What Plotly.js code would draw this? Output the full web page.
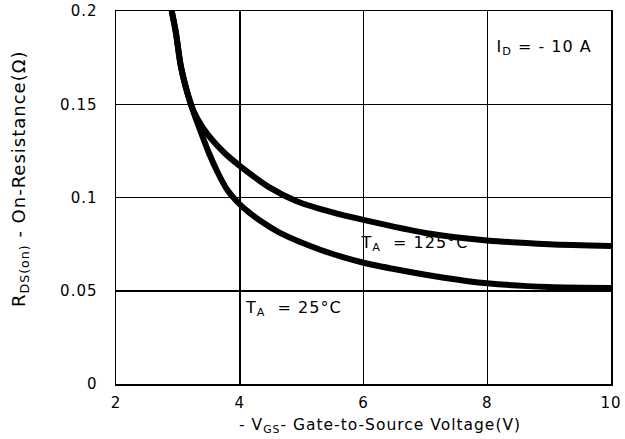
<!DOCTYPE html>
<html>
<head>
<meta charset="utf-8">
<script src="https://cdn.plot.ly/plotly-3.0.1.min.js"></script>
<style>
html,body{margin:0;padding:0;background:#fff;}
#chart{width:625px;height:439px;}
#chart svg text{letter-spacing:1px;}
</style>
</head>
<body>
<div id="chart"></div>
<script>
// Data
const vgs25 = [2.9, 2.97, 3.05, 3.21, 3.35, 3.5, 3.65, 3.8, 3.95, 4.15, 4.4, 4.65, 5.3, 6.0, 6.6, 7.3, 8.0, 9.0, 10.0];
const rds25 = [0.2, 0.188, 0.17, 0.15, 0.137, 0.124, 0.113, 0.104, 0.098, 0.092, 0.086, 0.081, 0.072, 0.065, 0.061, 0.057, 0.054, 0.052, 0.0515];
const vgs125 = [2.9, 2.97, 3.05, 3.21, 3.32, 3.5, 3.75, 4.0, 4.5, 4.92, 5.5, 6.0, 7.0, 8.0, 9.0, 10.0];
const rds125 = [0.2, 0.188, 0.17, 0.15, 0.142, 0.133, 0.124, 0.117, 0.105, 0.098, 0.092, 0.088, 0.081, 0.077, 0.075, 0.074];
const xTicks = [2, 4, 6, 8, 10];
const yTicks = [0, 0.05, 0.1, 0.15, 0.2];
const yTickLabels = ['0', '0.05', '0.1', '0.15', '0.2'];

const font = 'DejaVu Sans, Arial, sans-serif';
const traces = [
  {x: vgs25, y: rds25, mode: 'lines', line: {color: '#000', width: 6, shape: 'spline', smoothing: 0.8}, showlegend: false, hoverinfo: 'skip'},
  {x: vgs125, y: rds125, mode: 'lines', line: {color: '#000', width: 6, shape: 'spline', smoothing: 0.8}, showlegend: false, hoverinfo: 'skip'}
];
const layout = {
  width: 625, height: 439,
  margin: {l: 116, r: 14, t: 11, b: 55},
  paper_bgcolor: '#fff', plot_bgcolor: '#fff',
  font: {family: font, color: '#000', size: 15},
  xaxis: {
    range: [2, 10], tickvals: xTicks, ticktext: xTicks.map(String),
    showgrid: true, gridcolor: '#000', gridwidth: 1.5,
    showline: true, linecolor: '#000', linewidth: 1.5, mirror: true,
    zeroline: false, ticks: '', ticklen: 0, ticklabelstandoff: 4,
    tickfont: {size: 15, family: font}
  },
  yaxis: {
    range: [0, 0.2], tickvals: yTicks, ticktext: yTickLabels,
    showgrid: true, gridcolor: '#000', gridwidth: 1.5,
    showline: true, linecolor: '#000', linewidth: 1.5, mirror: true,
    zeroline: false, ticks: '', ticklen: 0, ticklabelstandoff: 14,
    tickfont: {size: 15, family: font}
  },
  annotations: [
    {x: 0.533, y: -0.113, xref: 'paper', yref: 'paper', text: '- V<sub>GS</sub>- Gate-to-Source Voltage(V)', showarrow: false, xanchor: 'center', yanchor: 'middle', font: {size: 15.5, family: font}},
    {x: -0.194, y: 0.552, xref: 'paper', yref: 'paper', text: 'R<sub>DS(on)</sub> - On-Resistance(Ω)', textangle: -90, showarrow: false, xanchor: 'center', yanchor: 'middle', font: {size: 18, family: font}},
    {x: 6.0, y: 0.0756, xref: 'x', yref: 'y', text: 'T<sub>A</sub>  = 125°C', showarrow: false, xanchor: 'left', yanchor: 'middle', font: {size: 16, family: font}},
    {x: 4.13, y: 0.0407, xref: 'x', yref: 'y', text: 'T<sub>A</sub>  = 25°C', showarrow: false, xanchor: 'left', yanchor: 'middle', font: {size: 16, family: font}},
    {x: 8.2, y: 0.1806, xref: 'x', yref: 'y', text: 'I<sub>D</sub> = - 10 A', showarrow: false, xanchor: 'left', yanchor: 'middle', font: {size: 16, family: font}}
  ]
};
Plotly.newPlot('chart', traces, layout, {staticPlot: true, displayModeBar: false});
</script>
</body>
</html>
